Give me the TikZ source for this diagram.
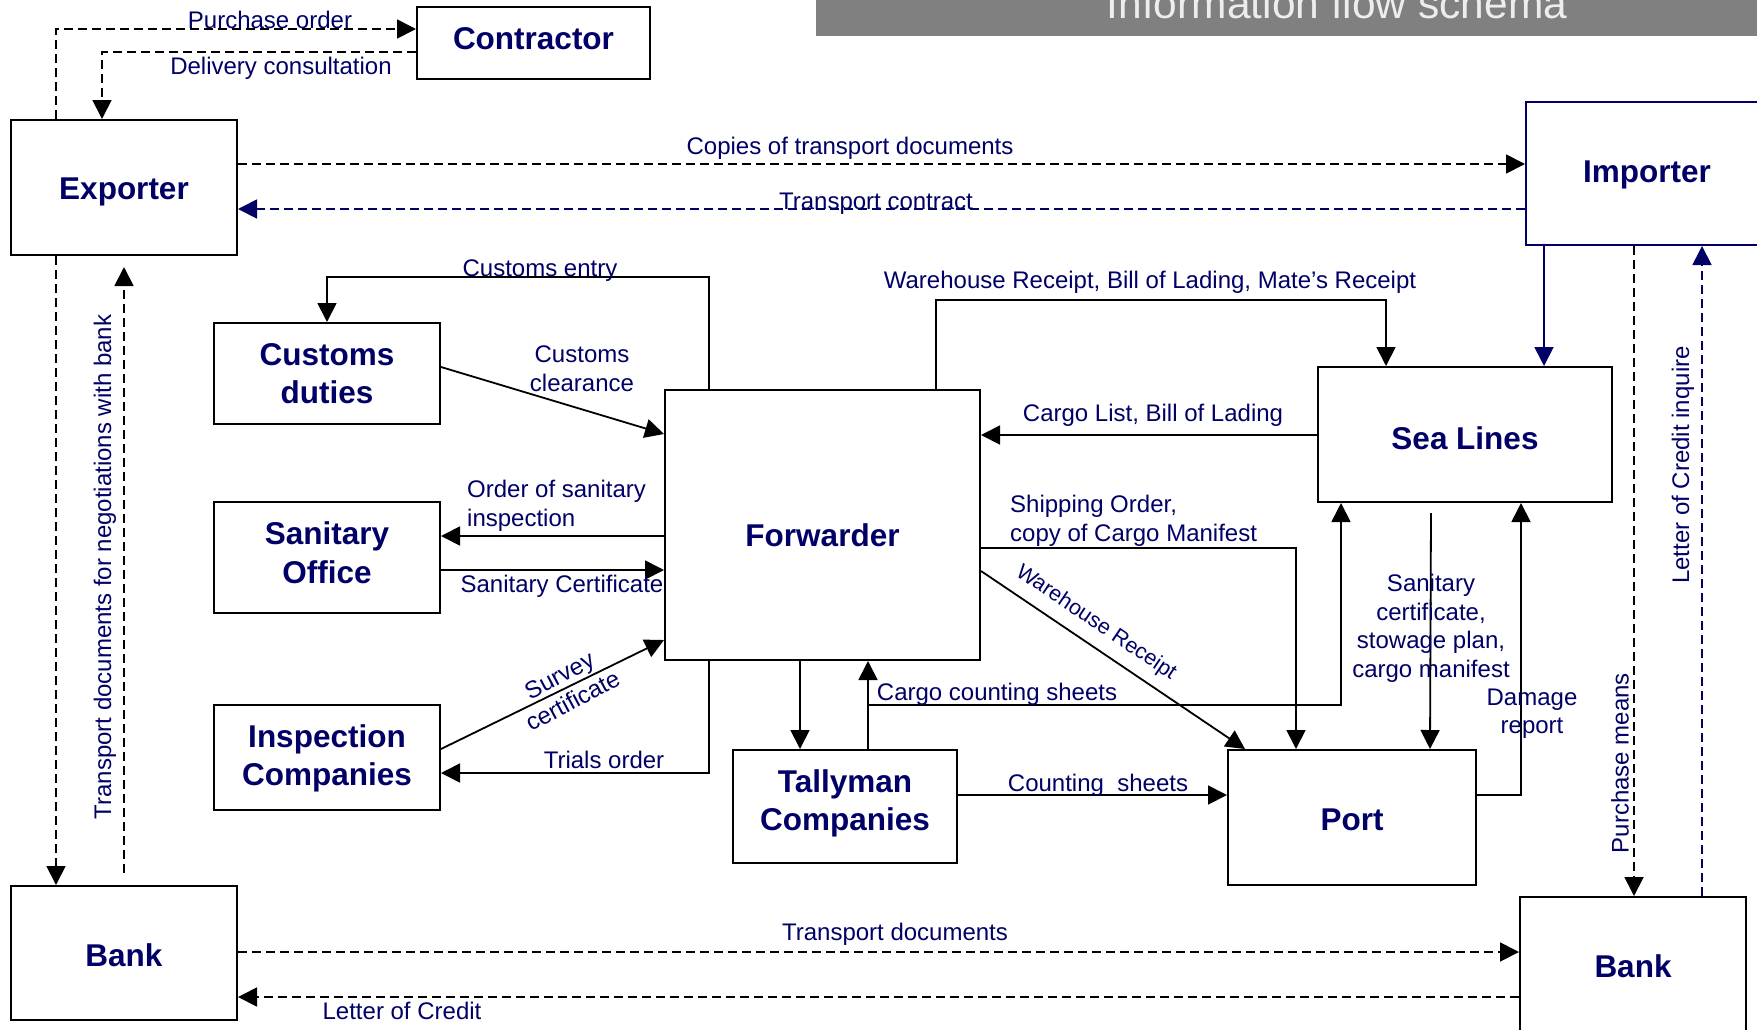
\documentclass[tikz,border=0pt]{standalone}
\usepackage{fontspec}
\setmainfont{Liberation Sans}
\usetikzlibrary{arrows.meta}
\definecolor{navy}{RGB}{0,0,102}
\definecolor{titlegray}{RGB}{128,128,128}
\newcommand\lbfont{\fontsize{24}{28.5}\selectfont}
\newcommand\bxfont{\fontsize{31.5}{38.5}\selectfont\bfseries}
\begin{document}
\begin{tikzpicture}[x=1pt,y=-1pt,
  box/.style={draw=black, line width=2pt, inner sep=0pt},
  bt/.style={inner sep=0pt, align=center, text=navy, font=\bxfont},
  cn/.style={line width=1.8pt, -{Triangle[length=19pt,width=19pt]}},
  dsh/.style={dash pattern=on 9pt off 5pt},
  lbl/.style={text=navy, font=\lbfont, inner sep=0pt, align=center}]
\useasboundingbox (0,0) rectangle (1757,1029);
\clip (0,0) rectangle (1757,1029);
% title bar
\fill[titlegray] (816,0) rectangle (1757,36);
\node[anchor=base, text=white!93!black, font=\fontsize{42.5}{50}\selectfont, inner sep=0pt] (title) at (1337,18) {Information flow schema};
% boxes
\node[box, minimum width=233pt, minimum height=72pt] (con) at (533.5,43) {};
\node[box, minimum width=226pt, minimum height=135pt] (exp) at (124,187.5) {};
\node[box, draw=navy, minimum width=242pt, minimum height=143pt] (imp) at (1647,173.5) {};
\node[box, minimum width=226pt, minimum height=101pt] (cus) at (327,373.5) {};
\node[box, minimum width=226pt, minimum height=111pt] (san) at (327,557.5) {};
\node[box, minimum width=226pt, minimum height=105pt] (ins) at (327,757.5) {};
\node[box, minimum width=315pt, minimum height=270pt] (fwd) at (822.5,525) {};
\node[box, minimum width=294pt, minimum height=135pt] (sea) at (1465,434.5) {};
\node[box, minimum width=224pt, minimum height=113pt] (tal) at (845,806.5) {};
\node[box, minimum width=248pt, minimum height=135pt] (port) at (1352,817.5) {};
\node[box, minimum width=226pt, minimum height=134pt] (bankl) at (124,953) {};
\node[box, minimum width=226pt, minimum height=138pt] (bankr) at (1633,966) {};
% box texts
\node[bt] (conT) at (533.5,38.5) {Contractor};
\node[bt] (expT) at (124,192) {Exporter};
\node[bt] (impT) at (1647,174.5) {Importer};
\node[bt] (cusT) at (327,373.5) {Customs\\duties};
\node[bt] (sanT) at (327,552.5) {Sanitary\\Office};
\node[bt] (insT) at (327,758.5) {Inspection\\Companies};
\node[bt] (fwdT) at (822.5,535) {Forwarder};
\node[bt] (seaT) at (1465,438) {Sea Lines};
\node[bt] (talT) at (845,803.5) {Tallyman\\Companies};
\node[bt] (portT) at (1352,819.5) {Port};
\node[bt] (banklT) at (124,955) {Bank};
\node[bt] (bankrT) at (1633,966) {Bank};
% connectors
\draw[cn,dsh] (56,0 |- exp.north) |- (con.west |- 0,29);
\draw[cn,dsh] (con.west |- 0,52) -| (102,0 |- exp.north);
\draw[cn,dsh] (exp.east |- 0,164) -- (imp.west |- 0,164);
\draw[cn,dsh,navy] (imp.west |- 0,209) -- (exp.east |- 0,209);
\draw[cn,dsh] (56,0 |- exp.south) -- (56,0 |- bankl.north);
\coordinate (negS) at (124,873);
\coordinate (negE) at (124,267);
\draw[cn,dsh] (negS) -- (negE);
\draw[cn] (709,0 |- fwd.north) |- (327,277) -- (cus.north);
\draw[cn] (cus.east |- 0,367) -- (fwd.west |- 0,434);
\draw[cn] (fwd.west |- 0,536) -- (san.east |- 0,536);
\draw[cn] (san.east |- 0,570) -- (fwd.west |- 0,570);
\draw[cn] (ins.east |- 0,749) -- (fwd.west |- 0,640);
\draw[cn] (709,0 |- fwd.south) |- (ins.east |- 0,773);
\draw[cn] (800,0 |- fwd.south) -- (800,0 |- tal.north);
\draw[cn] (868,0 |- tal.north) -- (868,0 |- fwd.south);
\draw[cn] (868,705) -| (1341,0 |- sea.south);
\draw[cn] (fwd.east |- 0,548) -| (1296,0 |- port.north);
\draw[cn] (fwd.east |- 0,571) -- (1245,0 |- port.north);
\draw[cn] (936,0 |- fwd.north) |- (1386,300) -- (1386,0 |- sea.north);
\draw[cn] (sea.west |- 0,435) -- (fwd.east |- 0,435);
\draw[cn,navy] (1544,0 |- imp.south) -- (1544,0 |- sea.north);
\draw[cn,dsh] (1634,0 |- imp.south) -- (1634,0 |- bankr.north);
\draw[cn,dsh,navy] (1702,0 |- bankr.north) -- (1702,0 |- imp.south);
\coordinate (sanS) at (1431,513);
\draw[cn] (sanS) -- (1430,0 |- port.north);
\draw[cn] (port.east |- 0,795) -| (1521,0 |- sea.south);
\draw[cn] (tal.east |- 0,795) -- (port.west |- 0,795);
\draw[cn,dsh] (bankl.east |- 0,952) -- (bankr.west |- 0,952);
\draw[cn,dsh] (bankr.west |- 0,997) -- (bankl.east |- 0,997);
% labels
\node[lbl] (l1) at (270,20) {Purchase order};
\node[lbl] (l2) at (281,68.5) {Delivery consultation};
\node[lbl] (l3) at (850,148.5) {Copies of transport documents};
\node[lbl] (l4) at (876,204) {Transport contract};
\node[lbl] (l5) at (540,271) {Customs entry};
\node[lbl] (l6) at (582,368.5) {Customs\\clearance};
\node[lbl, anchor=west, align=left] (l7) at (467,506) {Order of sanitary\\inspection};
\node[lbl] (l8) at (562,586.5) {Sanitary Certificate};
\node[lbl, rotate=28] (l9) at (566,688) {Survey\\certificate};
\node[lbl] (l10) at (604,760) {Trials order};
\node[lbl] (l11) at (1150,282.5) {Warehouse Receipt, Bill of Lading, Mate’s Receipt};
\node[lbl] (l12) at (1153,415) {Cargo List, Bill of Lading};
\node[lbl, anchor=west, align=left] (l13) at (1010,521) {Shipping Order,\\copy of Cargo Manifest};
\node[lbl, rotate=-34, font=\fontsize{21.5}{26}\selectfont] (l14) at (1096,623) {Warehouse Receipt};
\node[lbl] (l15) at (997,694.5) {Cargo counting sheets};
\node[lbl] (l16) at (1431,628.5) {Sanitary\\certificate,\\stowage plan,\\cargo manifest};
\node[lbl] (l17) at (1532,713.5) {Damage\\report};
\node[lbl] (l18) at (1098,785.5) {Counting\ \ sheets};
\node[lbl] (l19) at (895,934) {Transport documents};
\node[lbl] (l20) at (402,1011) {Letter of Credit};
\node[lbl, rotate=90] (l21) at (105,567) {Transport documents for negotiations with bank};
\node[lbl, rotate=90] (l22) at (1620,763) {Purchase means};
\node[lbl, rotate=90] (l23) at (1683,465) {Letter of Credit inquire};
\end{tikzpicture}
\end{document}
